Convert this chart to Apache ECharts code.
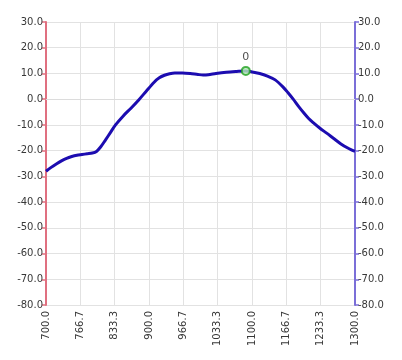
<!DOCTYPE html>
<html><head><meta charset="utf-8">
<script src="https://cdn.jsdelivr.net/npm/echarts@6/dist/echarts.min.js"></script>
<style>html,body{margin:0;padding:0;background:#fff}#c{width:402px;height:360px}</style>
</head><body><div id="c"></div>
<script>
const xValues = [700,710,720,730,740,750,760,770,780,790,798,806,815,825,835,850,865,880,895,910,920,930,940,950,965,980,995,1005,1015,1030,1050,1070,1088,1100,1115,1130,1145,1160,1170,1180,1190,1200,1210,1220,1232,1245,1260,1272,1285,1294,1300];
const yValues = [-28.0,-26.5,-25.2,-24.0,-23.0,-22.3,-21.8,-21.5,-21.2,-20.9,-20.3,-18.6,-16.0,-13.0,-10.0,-6.5,-3.5,-0.3,3.2,6.6,8.3,9.3,9.9,10.2,10.2,10.0,9.6,9.4,9.5,10.0,10.5,10.8,11.0,10.6,10.0,9.0,7.5,4.8,2.5,0.0,-2.7,-5.2,-7.5,-9.3,-11.3,-13.2,-15.5,-17.3,-18.9,-19.8,-20.3];
const markerX = [1088];
const markerY = [11.0];
const markerLabels = ['0'];

const font = 'DejaVu Sans';
const lineData = xValues.map((x, i) => [x, yValues[i]]);
const markerData = markerX.map((x, i) => ({value: [x, markerY[i]], name: markerLabels[i]}));

const yAxisBase = (pos, color) => ({
  type: 'value', position: pos, min: -80, max: 30, interval: 10,
  axisLine: {show: true, lineStyle: {color: color, width: 2}},
  axisTick: {show: true, length: 4, lineStyle: {color: color, width: 1.5}},
  axisLabel: {color: '#383838', fontFamily: font, fontSize: 10, margin: 3, formatter: v => v.toFixed(1)},
  splitLine: {show: pos === 'left', lineStyle: {color: '#e2e2e2', width: 1}}
});

const chart = echarts.init(document.getElementById('c'));
chart.setOption({
  animation: false,
  grid: {left: 46, right: 47, top: 22, bottom: 55},
  xAxis: {
    type: 'value', min: 700, max: 1300, interval: 200/3,
    axisLine: {show: true, lineStyle: {color: '#dcdcdc'}},
    axisTick: {show: false},
    axisLabel: {color: '#383838', fontFamily: font, fontSize: 10, rotate: 90, margin: 6, formatter: v => v.toFixed(1)},
    splitLine: {show: true, lineStyle: {color: '#e2e2e2', width: 1}}
  },
  yAxis: [yAxisBase('left', '#e07080'), yAxisBase('right', '#7b6fd8')],
  series: [
    {type: 'line', data: lineData, smooth: 0.3, showSymbol: false,
     lineStyle: {color: '#1c0cb0', width: 3}, z: 2},
    {type: 'scatter', data: markerData, symbol: 'circle', symbolSize: 8,
     itemStyle: {color: '#b8f0b8', borderColor: '#22a022', borderWidth: 2},
     label: {show: true, position: 'top', distance: 3, formatter: p => p.name, color: '#222', fontFamily: font, fontSize: 11},
     z: 3}
  ]
});
</script></body></html>
